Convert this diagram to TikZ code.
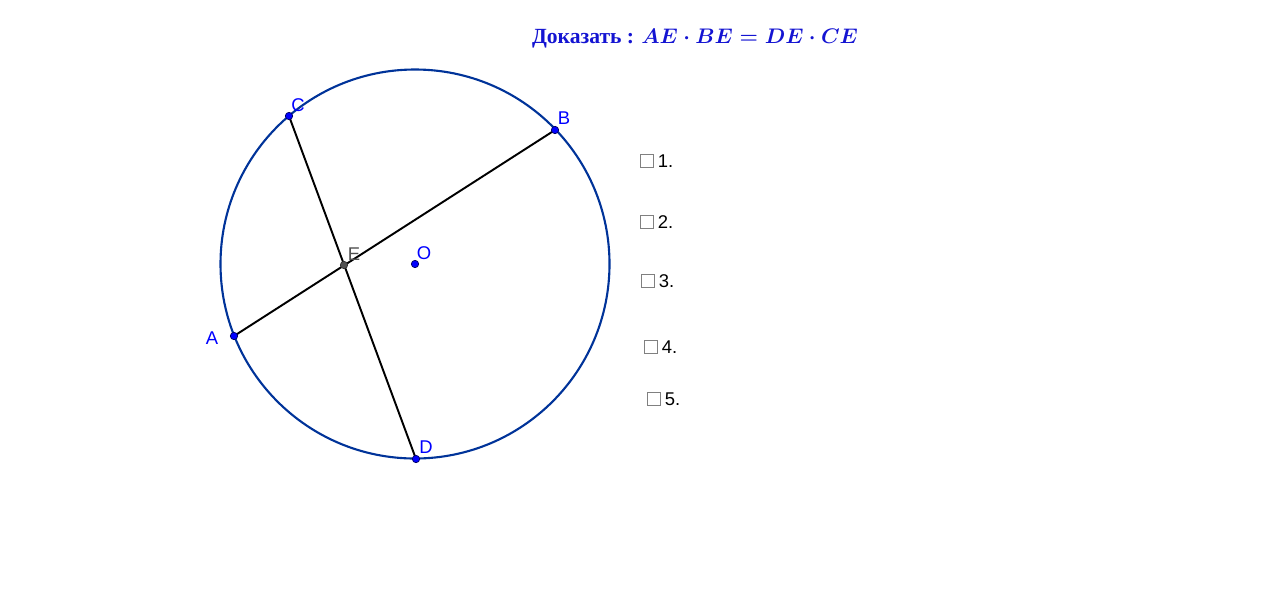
\documentclass[tikz,border=0pt]{standalone}
\usepackage{fontspec}
\setmainfont{Liberation Serif}
\setsansfont{Liberation Sans}
\usepackage{amsmath}
\usetikzlibrary{positioning,calc}

\definecolor{circblue}{RGB}{0,51,153}
\definecolor{ptblue}{RGB}{0,0,255}
\definecolor{ttlblue}{RGB}{20,20,210}
\definecolor{ptdark}{RGB}{0,0,100}
\definecolor{egray}{RGB}{80,80,80}

\newcommand{\prooftitle}{Доказать : {\boldmath$AE\cdot BE=DE\cdot CE$}}

\tikzset{
  pt/.style={circle,fill=ptblue,draw=ptdark,line width=0.4pt,inner sep=0pt,minimum size=4.2pt},
  lbl/.style={text=ptblue,font=\sffamily\fontsize{10.5}{12}\selectfont,inner sep=0pt},
  chord/.style={line width=1.1pt,black},
  chk/.style={draw=gray,line width=0.5pt,minimum size=7.5pt,inner sep=0pt},
  chktxt/.style={font=\sffamily\fontsize{10.5}{12}\selectfont,inner sep=0pt,anchor=west}
}

\begin{document}
\begin{tikzpicture}[x=0.02cm,y=-0.02cm]
    \useasboundingbox (0,0) rectangle (1280,596);

    % Title
    \node[text=ttlblue,font=\bfseries] (title) at (695,39) {\fontsize{12.3}{14}\selectfont\prooftitle};

    % Circle
    \coordinate (O) at (415,264);
    \draw[circblue,line width=1.2pt] (O) circle (194.5);

    % Points on circle
    \coordinate (A) at (234,336);
    \coordinate (B) at (555,130);
    \coordinate (C) at (289,116);
    \coordinate (D) at (416,459);
    \coordinate (E) at (344,265);

    % Chords
    \draw[chord] (A) -- (B);
    \draw[chord] (C) -- (D);

    % Points
    \node[pt] (pA) at (A) {};
    \node[pt] (pB) at (B) {};
    \node[pt] (pC) at (C) {};
    \node[pt] (pD) at (D) {};
    \node[pt] (pO) at (O) {};
    \node[pt,fill=egray,draw=black!80] (pE) at (E) {};

    % Labels
    \node[lbl] (lA) at (212,338) {A};
    \node[lbl] (lB) at (564,118) {B};
    \node[lbl] (lC) at (298,105) {C};
    \node[lbl] (lD) at (426,447) {D};
    \node[lbl] (lO) at (424,253) {O};
    \node[lbl,text=egray] (lE) at (354,254) {E};

    % Check boxes
    \foreach \n/\x/\y in {1/647/161, 2/647/222, 3/648/281, 4/651/347, 5/654/399} {
        \node[chk] (box\n) at (\x,\y) {};
        \node[chktxt,right=2pt of box\n] (item\n) {\n.};
    }
\end{tikzpicture}
\end{document}
